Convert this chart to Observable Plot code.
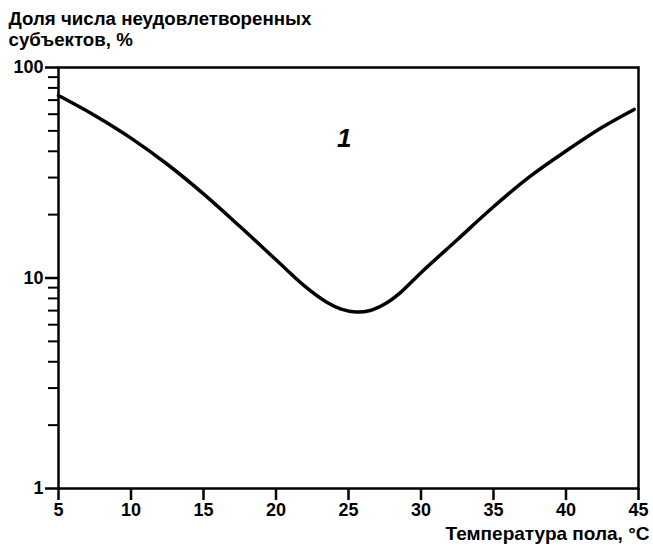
<!DOCTYPE html>
<html><head><meta charset="utf-8">
<script src="https://cdn.jsdelivr.net/npm/d3@7"></script>
<script src="https://cdn.jsdelivr.net/npm/@observablehq/plot@0.6"></script>
<style>body{margin:0;background:#fff}</style>
</head><body><div id="chart"></div>
<script>
// Data
const temps  = [5, 7.5, 10, 12.5, 15, 17.5, 20, 22, 23.5, 24.5, 25.5, 26.5, 27.5, 28.6, 30, 32.5, 35, 37.5, 40, 42.5, 44.7];
const shares = [73.6, 59.2, 46.2, 34.7, 25.1, 17.6, 12.2, 9.12, 7.67, 7.11, 6.89, 7.01, 7.52, 8.55, 10.6, 15.2, 21.8, 30.3, 40.1, 52.0, 63.2];
const xTicks = [5, 10, 15, 20, 25, 30, 35, 40, 45];
const yMajor = [1, 10, 100];
const yMinor = [2, 3, 4, 5, 6, 7, 8, 9, 20, 30, 40, 50, 60, 70, 80, 90];
const titleLines = ["Доля числа неудовлетворенных", "субъектов, %"];
const xLabel = "Температура пола, °C";
const curveLabels = [{t: 24.7, v: 46, text: "1"}];

const data = temps.map((t, i) => ({t, v: shares[i]}));
const font = "'Liberation Sans', Arial, sans-serif";

const chart = Plot.plot({
  width: 653, height: 546,
  marginLeft: 58, marginRight: 15, marginTop: 67, marginBottom: 58,
  style: {fontFamily: font, fontSize: "18px", color: "#000", background: "#fff"},
  x: {domain: [5, 45]},
  y: {type: "log", domain: [1, 100]},
  marks: [
    Plot.axisX(xTicks, {tickSize: 12, tickPadding: 3, fontWeight: "bold", fontSize: 18, strokeWidth: 2.5, label: null, tickFormat: d => String(d)}),
    Plot.axisY(yMinor, {tickSize: 10, tickFormat: () => "", strokeWidth: 2, label: null}),
    Plot.axisY(yMajor, {tickSize: 13, tickPadding: 2, fontWeight: "bold", fontSize: 18, strokeWidth: 2.5, label: null, tickFormat: d => String(d)}),
    Plot.frame({stroke: "#000", strokeWidth: 2.5}),
    Plot.line(data, {x: "t", y: "v", curve: "catmull-rom", stroke: "#000", strokeWidth: 3.5}),
    Plot.text(curveLabels, {x: "t", y: "v", text: "text", fontStyle: "italic", fontWeight: "bold", fontSize: 26, fill: "#000"}),
    Plot.text([titleLines.join("\n")], {frameAnchor: "top-left", dx: -50, dy: -58, textAnchor: "start", lineAnchor: "top", lineHeight: 1.15, fontSize: 18.7, fontWeight: "bold", fill: "#000"}),
    Plot.text([xLabel], {frameAnchor: "bottom-right", dx: 11, dy: 45, textAnchor: "end", lineAnchor: "middle", fontSize: 19, fontWeight: "bold", fill: "#000"})
  ]
});
document.getElementById("chart").appendChild(chart);
</script>
</body></html>
